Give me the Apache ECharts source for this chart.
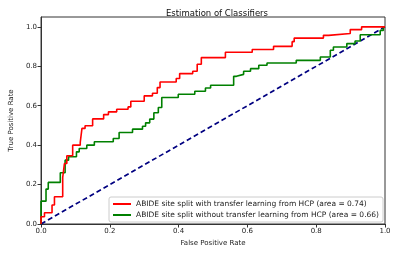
<!DOCTYPE html>
<html>
<head>
<meta charset="utf-8">
<script src="https://cdn.jsdelivr.net/npm/echarts@6/dist/echarts.min.js"></script>
<style>
  html, body { margin: 0; padding: 0; background: #fff; }
  #chart { width: 400px; height: 253px; }
</style>
</head>
<body>
<div id="chart"></div>
<script>
const redFpr = [0, 0, 0.01, 0.032, 0.039, 0.063, 0.068, 0.075, 0.092, 0.114, 0.119, 0.128, 0.15, 0.182, 0.196, 0.22, 0.253, 0.261, 0.3, 0.324, 0.338, 0.346, 0.393, 0.403, 0.441, 0.454, 0.466, 0.536, 0.614, 0.676, 0.73, 0.736, 0.821, 0.836, 0.899, 0.932, 1];
const redTpr = [0, 0.037, 0.057, 0.096, 0.138, 0.236, 0.307, 0.346, 0.4, 0.414, 0.485, 0.498, 0.533, 0.555, 0.569, 0.582, 0.594, 0.623, 0.65, 0.663, 0.692, 0.72, 0.738, 0.763, 0.775, 0.81, 0.844, 0.871, 0.885, 0.901, 0.925, 0.943, 0.957, 0.966, 0.986, 1, 1];

const greenFpr = [0, 0, 0.0145, 0.021, 0.056, 0.07, 0.08, 0.103, 0.111, 0.133, 0.155, 0.21, 0.227, 0.266, 0.295, 0.304, 0.316, 0.328, 0.341, 0.351, 0.399, 0.447, 0.478, 0.493, 0.56, 0.568, 0.589, 0.609, 0.633, 0.657, 0.742, 0.812, 0.841, 0.85, 0.889, 0.913, 0.928, 0.986, 0.995, 1];
const greenTpr = [0, 0.116, 0.177, 0.211, 0.26, 0.324, 0.341, 0.366, 0.383, 0.4, 0.417, 0.434, 0.464, 0.481, 0.496, 0.513, 0.532, 0.564, 0.591, 0.642, 0.658, 0.673, 0.69, 0.704, 0.749, 0.759, 0.775, 0.788, 0.805, 0.817, 0.83, 0.847, 0.881, 0.898, 0.915, 0.928, 0.96, 0.982, 1, 1];

const chanceLine = [[0, 0], [1, 1]];

const redName = "ABIDE site split with transfer learning from HCP (area = 0.74)";
const greenName = "ABIDE site split without transfer learning from HCP (area = 0.66)";

const font = "DejaVu Sans";
const chart = echarts.init(document.getElementById("chart"));

const axisCommon = {
  type: "value",
  min: 0,
  interval: 0.2,
  nameLocation: "middle",
  nameTextStyle: { fontFamily: font, fontSize: 7, color: "#222" },
  axisLine: { show: true, onZero: false, lineStyle: { color: "#333", width: 1 } },
  axisTick: { show: true, length: 3.5, inside: false, lineStyle: { color: "#333" } },
  axisLabel: {
    fontFamily: font, fontSize: 7, color: "#222", margin: 4,
    formatter: (v) => v.toFixed(1),
    showMaxLabel: true,
  },
  splitLine: { show: false },
};

chart.setOption({
  animation: false,
  backgroundColor: "#fff",
  title: {
    text: "Estimation of Classifiers",
    left: 212, top: 4, textAlign: "center",
    textStyle: { fontFamily: font, fontSize: 8.5, fontWeight: "normal", color: "#111" },
  },
  grid: {
    left: 40, right: 15, top: 17, bottom: 29,
    show: true, borderColor: "#333", borderWidth: 1,
  },
  xAxis: Object.assign({}, axisCommon, {
    max: 1,
    name: "False Positive Rate",
    nameGap: 15,
  }),
  yAxis: Object.assign({}, axisCommon, {
    max: 1.05,
    name: "True Positive Rate",
    nameGap: 25,
    nameRotate: 90,
    axisLabel: Object.assign({}, axisCommon.axisLabel, { showMaxLabel: false }),
  }),
  legend: {
    orient: "vertical",
    right: 17, bottom: 31,
    padding: [3, 4, 3, 4],
    itemGap: 3,
    icon: "rect",
    itemWidth: 18, itemHeight: 2,
    backgroundColor: "rgba(255,255,255,0.85)",
    borderColor: "#ccc", borderWidth: 1, borderRadius: 2,
    textStyle: { fontFamily: font, fontSize: 7.5, color: "#222" },
    data: [redName, greenName],
  },
  series: [
    {
      name: "chance", type: "line", symbol: "none",
      data: chanceLine,
      lineStyle: { color: "#000080", width: 1.7, type: [5, 3] },
      itemStyle: { color: "#000080" },
      z: 1,
    },
    {
      name: greenName, type: "line", step: "end", symbol: "none",
      data: greenFpr.map((x, i) => [x, greenTpr[i]]),
      lineStyle: { color: "#008000", width: 1.6 },
      itemStyle: { color: "#008000" },
      z: 2,
    },
    {
      name: redName, type: "line", step: "end", symbol: "none",
      data: redFpr.map((x, i) => [x, redTpr[i]]),
      lineStyle: { color: "#ff0000", width: 1.6 },
      itemStyle: { color: "#ff0000" },
      z: 3,
    },
  ],
});
</script>
</body>
</html>
